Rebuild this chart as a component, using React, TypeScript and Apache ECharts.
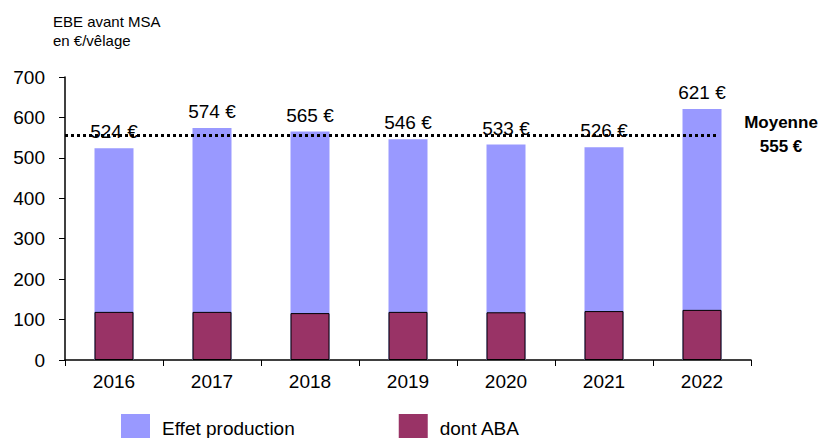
import React, { useEffect, useRef } from "react";
import * as echarts from "echarts";

const categories = ["2016", "2017", "2018", "2019", "2020", "2021", "2022"];
const effetProduction = [524, 574, 565, 546, 533, 526, 621];
const dontABA = [119, 119, 116, 119, 118, 121, 124];
const moyenne = 555;
const moyenneLine = [[0, moyenne], [0.952, moyenne]];

const FONT = "'Liberation Sans', Arial, sans-serif";

export default function App() {
  const ref = useRef<HTMLDivElement>(null);
  useEffect(() => {
    const chart = echarts.init(ref.current!, null, { renderer: "svg" });
    chart.setOption({
      animation: false,
      textStyle: { fontFamily: FONT },
      grid: { left: 65, right: 70, top: 77, bottom: 78 },
      graphic: [
        {
          type: "text",
          left: 53,
          top: 12,
          style: {
            text: "EBE avant MSA\nen €/vêlage",
            font: `15px ${FONT}`,
            lineHeight: 19,
            fill: "#000",
          },
        },
        {
          type: "text",
          x: 781,
          y: 122,
          style: {
            text: "Moyenne",
            font: `bold 17px ${FONT}`,
            fill: "#000",
            align: "center",
            verticalAlign: "middle",
          },
        },
        {
          type: "text",
          x: 781,
          y: 146,
          style: {
            text: "555 €",
            font: `bold 17px ${FONT}`,
            fill: "#000",
            align: "center",
            verticalAlign: "middle",
          },
        },
      ],
      legend: {
        data: ["Effet production", "dont ABA"],
        left: 116,
        top: 409,
        icon: "rect",
        itemWidth: 29,
        itemHeight: 29,
        itemGap: 104,
        itemStyle: { borderWidth: 0 },
        textStyle: { fontSize: 19, color: "#000", fontFamily: FONT, padding: [0, 0, 0, 7] },
      },
      xAxis: [
        {
          type: "category",
          data: categories,
          axisLine: { lineStyle: { color: "#000", width: 1.5 } },
          axisTick: { show: true, length: 6, lineStyle: { color: "#000" } },
          axisLabel: { fontSize: 19, color: "#000", margin: 12, fontFamily: FONT },
        },
        {
          type: "value",
          min: 0,
          max: 1,
          show: false,
        },
      ],
      yAxis: {
        type: "value",
        min: 0,
        max: 700,
        interval: 100,
        axisLine: { show: true, lineStyle: { color: "#000", width: 1.5 } },
        axisTick: { show: true, length: 6, lineStyle: { color: "#000" } },
        splitLine: { show: false },
        axisLabel: { fontSize: 19, color: "#000", margin: 20, fontFamily: FONT },
      },
      series: [
        {
          name: "Effet production",
          type: "bar",
          data: effetProduction,
          barWidth: 39,
          itemStyle: { color: "#9999FF" },
          label: {
            show: true,
            position: "top",
            distance: 7,
            formatter: "{c} €",
            fontSize: 19,
            color: "#000",
            fontFamily: FONT,
          },
          z: 2,
        },
        {
          name: "dont ABA",
          type: "bar",
          data: dontABA,
          barWidth: 39,
          barGap: "-100%",
          itemStyle: { color: "#993366", borderColor: "#000", borderWidth: 1 },
          z: 3,
        },
        {
          name: "Moyenne",
          type: "line",
          xAxisIndex: 1,
          data: moyenneLine,
          symbol: "none",
          lineStyle: { color: "#000", width: 3, type: [3, 3] },
          z: 5,
        },
      ],
    });
    return () => chart.dispose();
  }, []);
  return <div ref={ref} style={{ width: 821, height: 438, position: "absolute", left: 0, top: 0 }} />;
}
